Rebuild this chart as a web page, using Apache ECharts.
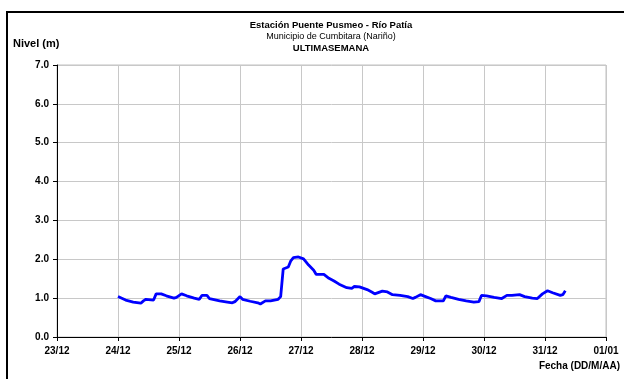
<!DOCTYPE html>
<html>
<head>
<meta charset="utf-8">
<script src="https://cdn.jsdelivr.net/npm/echarts@6/dist/echarts.min.js"></script>
<style>html,body{margin:0;padding:0;background:#fff}#c{width:624px;height:379px}</style>
</head>
<body>
<div id="c"></div>
<script>
// X tick labels (one per day, starting 23/12 00:00)
const tickLabels = ['23/12','24/12','25/12','26/12','27/12','28/12','29/12','30/12','31/12','01/01'];
// Hours elapsed since 24/12 00:00 for each reading
const hours = [0,3,6,9,10,11,14,15,17,19,22,23,25,27,30,32,33,35,36,40,43,45,46,48,49,52,55,56,58,60,63,64,65,67,68,69,71,73,75,77,78,81,83,85,87,90,92,93,95,98,100,101,104,106,108,111,114,116,117,119,121,123,125,128,129,131,134,137,140,142,143,145,148,151,153,155,158,160,163,165,167,169,171,174,175,176];
// River level (m)
const level = [1.04,0.95,0.90,0.87,0.93,0.97,0.95,1.11,1.11,1.06,1.00,1.02,1.11,1.06,1.00,0.97,1.07,1.07,0.99,0.93,0.90,0.88,0.91,1.04,0.97,0.92,0.88,0.85,0.93,0.93,0.97,1.04,1.75,1.80,1.96,2.04,2.06,2.01,1.85,1.72,1.61,1.61,1.51,1.44,1.36,1.27,1.25,1.30,1.29,1.22,1.15,1.11,1.18,1.16,1.09,1.07,1.04,0.99,1.02,1.09,1.04,0.99,0.93,0.93,1.06,1.02,0.97,0.93,0.90,0.91,1.07,1.06,1.02,0.99,1.07,1.07,1.09,1.04,1.00,0.99,1.11,1.19,1.14,1.07,1.09,1.19];
const titleLines = ['Estación Puente Pusmeo - Río Patía','Municipio de Cumbitara (Nariño)','ULTIMASEMANA'];
const yName = 'Nivel (m)';
const xName = 'Fecha (DD/M/AA)';

const F = "'Liberation Sans', Arial, sans-serif";
const chart = echarts.init(document.getElementById('c'), null, {renderer:'canvas'});
chart.setOption({
  animation: false,
  backgroundColor: '#fff',
  grid: {left: 57, right: 18, top: 65, bottom: 42, show: true, borderColor: '#c0c0c0', borderWidth: 1},
  xAxis: {
    type: 'value', min: 0, max: 216, interval: 24,
    axisLine: {show: true, onZero: false, lineStyle: {color: '#000', width: 1}},
    axisTick: {show: true, length: 4, lineStyle: {color: '#000'}},
    splitLine: {show: true, lineStyle: {color: '#c8c8c8', width: 1}},
    axisLabel: {color: '#000', fontFamily: F, fontWeight: 'bold', fontSize: 10, margin: 9,
      formatter: v => tickLabels[Math.round(v/24)]}
  },
  yAxis: {
    type: 'value', min: 0, max: 7, interval: 1,
    axisLine: {show: true, lineStyle: {color: '#000', width: 1}},
    axisTick: {show: true, length: 4, lineStyle: {color: '#000'}},
    splitLine: {show: true, lineStyle: {color: '#c8c8c8', width: 1}},
    axisLabel: {color: '#000', fontFamily: F, fontWeight: 'bold', fontSize: 10, margin: 8,
      formatter: v => v.toFixed(1)}
  },
  series: [{
    type: 'line', showSymbol: false, symbol: 'none',
    lineStyle: {color: '#0000ff', width: 2.8},
    data: hours.map((h, i) => [24 + h, level[i]])
  }],
  graphic: [
    {type: 'rect', silent: true, z: 100, shape: {x: 7, y: 12, width: 700, height: 500},
      style: {fill: 'none', stroke: '#000', lineWidth: 2}},
    {type: 'text', x: 331, y: 25, style: {text: titleLines[0], fill: '#000', font: "bold 9.5px " + F, textAlign: 'center', textVerticalAlign: 'middle'}},
    {type: 'text', x: 331, y: 37, style: {text: titleLines[1], fill: '#000', font: "9px " + F, textAlign: 'center', textVerticalAlign: 'middle'}},
    {type: 'text', x: 331, y: 48, style: {text: titleLines[2], fill: '#000', font: "bold 9.5px " + F, textAlign: 'center', textVerticalAlign: 'middle'}},
    {type: 'text', x: 13, y: 44, style: {text: yName, fill: '#000', font: "bold 11px " + F, textAlign: 'left', textVerticalAlign: 'middle'}},
    {type: 'text', x: 620, y: 366, style: {text: xName, fill: '#000', font: "bold 10px " + F, textAlign: 'right', textVerticalAlign: 'middle'}}
  ]
});
</script>
</body>
</html>
